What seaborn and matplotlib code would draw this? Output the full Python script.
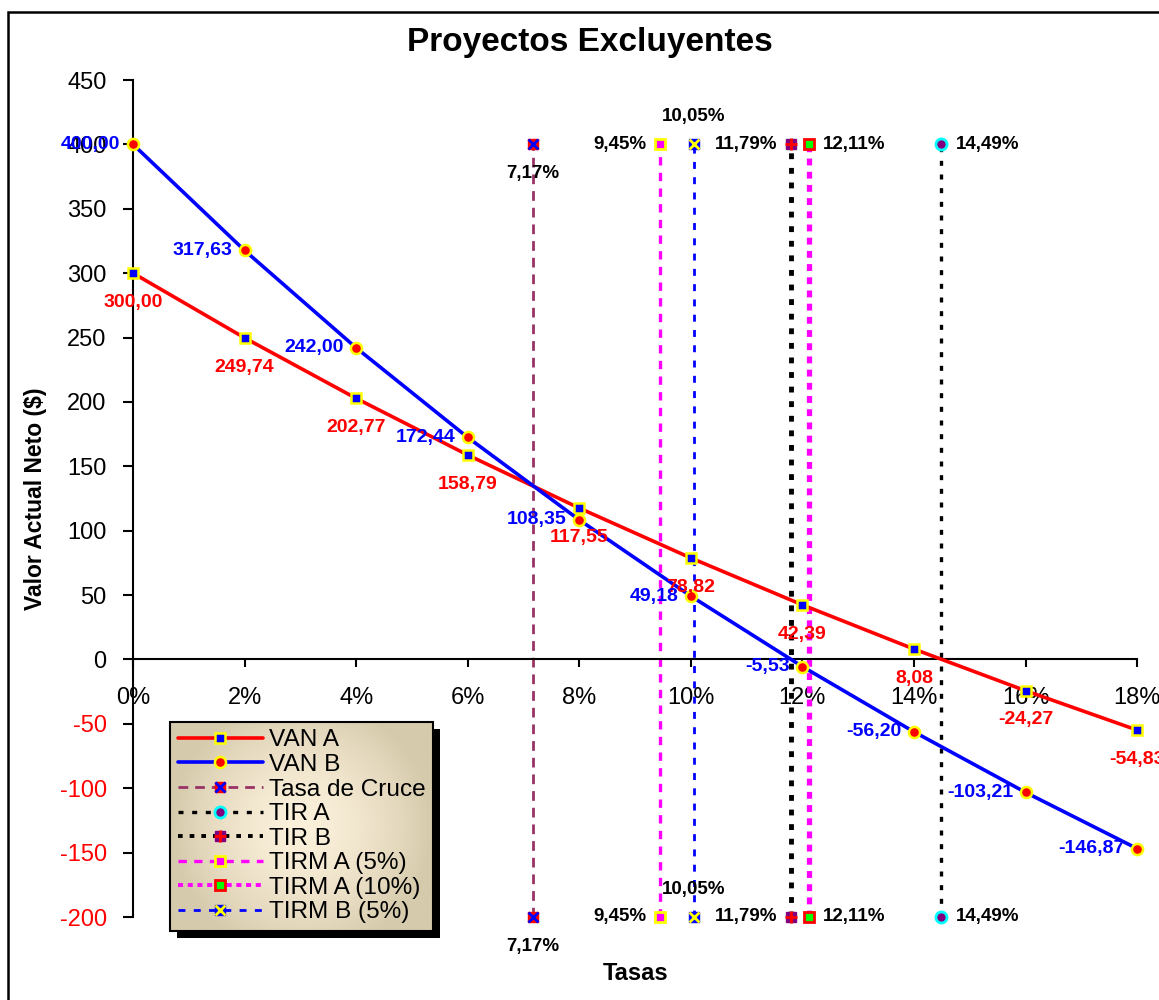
import numpy as np
import pandas as pd
import matplotlib
matplotlib.use("Agg")
import matplotlib.pyplot as plt
import seaborn as sns
from matplotlib.lines import Line2D
from matplotlib.patches import Rectangle
from matplotlib.legend_handler import HandlerTuple

# datos
tasas = [0, 2, 4, 6, 8, 10, 12, 14, 16, 18]
van_a = [300.00, 249.74, 202.77, 158.79, 117.55, 78.82, 42.39, 8.08, -24.27, -54.83]
van_b = [400.00, 317.63, 242.00, 172.44, 108.35, 49.18, -5.53, -56.20, -103.21, -146.87]

nombres_tasas = ["Tasa de Cruce", "TIR A", "TIR B", "TIRM A (5%)", "TIRM A (10%)", "TIRM B (5%)"]
valores_tasas = [7.17, 14.49, 11.79, 9.45, 12.11, 10.05]
extremos_y = [-200, 400]

y_ticks = [-200, -150, -100, -50, 0, 50, 100, 150, 200, 250, 300, 350, 400, 450]
x_ticks = [0, 2, 4, 6, 8, 10, 12, 14, 16, 18]


def coma(v, dec=2):
    return f"{v:.{dec}f}".replace(".", ",")


sns.set_style("white")
plt.rcParams['font.family'] = ['Liberation Sans', 'DejaVu Sans']
plt.rcParams['axes.unicode_minus'] = False
plt.rcParams['text.color'] = 'black'
plt.rcParams['axes.labelcolor'] = 'black'
plt.rcParams['xtick.color'] = 'black'
plt.rcParams['ytick.color'] = 'black'

fig = plt.figure(figsize=(11.59, 10), dpi=100)
ax = fig.add_axes([0.1148, 0.083, 0.8663, 0.837])

# estilos de las lineas verticales
estilos = {
    "Tasa de Cruce": dict(color="#993366", lw=2.0, dashes=(3.5, 2.5),
                          m1=dict(marker="s", ms=7, mfc="red", mec="red"),
                          m2=dict(marker="x", ms=7, mec="blue", mew=2), pos="below"),
    "TIR A": dict(color="black", lw=2.4, dashes=(1.5, 2.6),
                  m1=dict(marker="o", ms=8, mfc="#800080", mec="cyan", mew=2), m2=None, pos="right"),
    "TIR B": dict(color="black", lw=3.5, dashes=(1.2, 1.8),
                  m1=dict(marker="s", ms=7, mfc="#800080", mec="#800080"),
                  m2=dict(marker="+", ms=9, mec="red", mew=2), pos="left"),
    "TIRM A (5%)": dict(color="magenta", lw=2.4, dashes=(2.5, 2.2),
                        m1=dict(marker="s", ms=7, mfc="magenta", mec="yellow", mew=2), m2=None, pos="left"),
    "TIRM A (10%)": dict(color="magenta", lw=3.8, dashes=(1.3, 1.2),
                         m1=dict(marker="s", ms=7, mfc="#00FF00", mec="red", mew=2), m2=None, pos="right"),
    "TIRM B (5%)": dict(color="blue", lw=2.0, dashes=(2.5, 3),
                        m1=dict(marker="s", ms=7, mfc="blue", mec="blue"),
                        m2=dict(marker="x", ms=7, mec="yellow", mew=2), pos="above"),
}

offsets = {"below": ((0, -21), "center", "center"),
           "above": ((0, 20), "center", "center"),
           "left": ((-9.5, 0), "right", "center"),
           "right": ((10.5, 0), "left", "center")}

handles = []
for nombre, xv in zip(nombres_tasas, valores_tasas):
    st = estilos[nombre]
    ax.plot([xv, xv], extremos_y, color=st["color"], lw=st["lw"],
            dashes=st["dashes"], zorder=2)
    ax.plot([xv, xv], extremos_y, ls="none", zorder=4, clip_on=False, **st["m1"])
    if st["m2"]:
        ax.plot([xv, xv], extremos_y, ls="none", zorder=5, clip_on=False, **st["m2"])
    h1 = Line2D([], [], color=st["color"], lw=min(st["lw"], 2.8), dashes=st["dashes"],
                **st["m1"])
    if st["m2"]:
        h = (h1, Line2D([], [], ls="none", **st["m2"]))
    else:
        h = h1
    handles.append(h)
    off, ha, va = offsets[st["pos"]]
    for yv in extremos_y:
        ax.annotate(coma(xv) + "%", (xv, yv), xytext=off, textcoords="offset points",
                    ha=ha, va=va, fontsize=13.5, fontweight="bold", color="black",
                    annotation_clip=False, zorder=6)

# curvas VAN
df = pd.DataFrame({"tasa": tasas, "VAN A": van_a, "VAN B": van_b})
sns.lineplot(data=df, x="tasa", y="VAN A", ax=ax, color="red", lw=2.6,
             marker="s", markersize=7, markerfacecolor="blue",
             markeredgecolor="yellow", markeredgewidth=1.8, zorder=7, clip_on=False)
sns.lineplot(data=df, x="tasa", y="VAN B", ax=ax, color="blue", lw=2.6,
             marker="o", markersize=8, markerfacecolor="red",
             markeredgecolor="yellow", markeredgewidth=1.8, zorder=7, clip_on=False)

for xv, yv in zip(tasas, van_a):
    ax.annotate(coma(yv), (xv, yv), xytext=(0, -21), textcoords="offset points",
                ha="center", va="center", fontsize=14, fontweight="bold",
                color="red", annotation_clip=False, zorder=8)
for xv, yv in zip(tasas, van_b):
    ax.annotate(coma(yv), (xv, yv), xytext=(-9, 0), textcoords="offset points",
                ha="right", va="center", fontsize=14, fontweight="bold",
                color="blue", annotation_clip=False, zorder=8)

h_a = Line2D([], [], color="red", lw=2.6, marker="s", ms=7, mfc="blue",
             mec="yellow", mew=1.8)
h_b = Line2D([], [], color="blue", lw=2.6, marker="o", ms=8, mfc="red",
             mec="yellow", mew=1.8)

# ejes
ax.set_xlim(0, 18)
ax.set_ylim(-200, 450)
ax.set_xticks(x_ticks)
ax.set_xticklabels([f"{t}%" for t in x_ticks])
ax.set_yticks(y_ticks)
ax.set_yticklabels([str(t) for t in y_ticks])
for lab, val in zip(ax.get_yticklabels(), y_ticks):
    lab.set_color("red" if val < 0 else "black")

ax.spines["top"].set_visible(False)
ax.spines["right"].set_visible(False)
ax.spines["bottom"].set_position(("data", 0))
for s in ["left", "bottom"]:
    ax.spines[s].set_color("black")
    ax.spines[s].set_linewidth(1.5)
ax.tick_params(axis="x", direction="out", length=6, width=1.5, pad=14,
               labelsize=17, bottom=True)
ax.tick_params(axis="y", direction="out", length=7, width=1.5, pad=12,
               labelsize=17, left=True)

ax.set_xlabel("Tasas", fontsize=17, fontweight="bold")
ax.set_ylabel("Valor Actual Neto ($)", fontsize=16.5, fontweight="bold")
ax.xaxis.set_label_coords(0.5, -0.054)
ax.yaxis.set_label_coords(-0.086, 0.5)

fig.text(0.509, 0.957, "Proyectos Excluyentes", ha="center", va="center",
         fontsize=24, fontweight="bold")

leg = ax.legend([h_a, h_b] + handles, ["VAN A", "VAN B"] + nombres_tasas,
                handler_map={tuple: HandlerTuple(ndivide=1, pad=0)},
                loc="upper left", bbox_to_anchor=(0.037, 0.233), borderaxespad=0,
                fontsize=17.6, labelspacing=0.1, handlelength=3.5,
                handletextpad=0.25, borderpad=0.3, fancybox=False,
                framealpha=1, facecolor="none", edgecolor="black")
leg.get_frame().set_linewidth(1.5)
leg.set_zorder(10)

# fondo degradado y sombra de la leyenda
fig.canvas.draw()
bb = leg.get_window_extent()
inv = ax.transData.inverted()
(x0, y0), (x1, y1) = inv.transform([[bb.x0, bb.y0], [bb.x1, bb.y1]])
(sx0, sy0), (sx1, sy1) = inv.transform([[bb.x0 + 7, bb.y0 - 7], [bb.x1 + 7, bb.y1 - 7]])
ax.add_patch(Rectangle((sx0, sy0), sx1 - sx0, sy1 - sy0, facecolor="black",
                       edgecolor="none", zorder=8.5, clip_on=False))
gx, gy = np.meshgrid(np.linspace(-1, 1, 200), np.linspace(-1, 1, 160))
r = np.clip(np.sqrt((gx * 1.0) ** 2 + (gy * 0.8) ** 2), 0, 1)
claro = np.array([251, 240, 218]) / 255
oscuro = np.array([214, 202, 172]) / 255
grad = claro[None, None, :] * (1 - r[..., None] ** 1.6) + oscuro[None, None, :] * r[..., None] ** 1.6
ax.imshow(grad, extent=[x0, x1, y0, y1], aspect="auto", zorder=9,
          interpolation="bilinear", clip_on=False)
ax.set_xlim(0, 18)
ax.set_ylim(-200, 450)

# borde del grafico
fig.patches.append(Rectangle((0.007, -0.1), 1.2, 0.988 + 0.1, transform=fig.transFigure,
                             fill=False, lw=1.8, edgecolor="black"))

fig.savefig("out.png", dpi=100)
